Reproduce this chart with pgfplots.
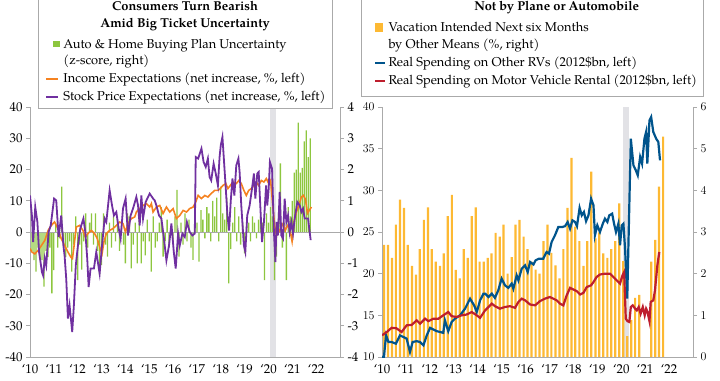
\documentclass[border=0pt]{standalone}
\usepackage{pgfplots}
\pgfplotsset{compat=1.18}
\usepackage{fontspec}
\setmainfont{TeX Gyre Pagella}
\definecolor{cgreen}{RGB}{141,198,63}
\definecolor{corange}{RGB}{245,130,32}
\definecolor{cpurple}{RGB}{112,48,160}
\definecolor{cgold}{RGB}{253,185,51}
\definecolor{cblue}{RGB}{0,84,140}
\definecolor{cred}{RGB}{190,30,45}
\definecolor{caxis}{RGB}{170,170,170}
\definecolor{crec}{RGB}{226,226,230}
\newcommand\lf{\fontsize{12.9}{15}\selectfont}
\pgfplotsset{
  base/.style={scale only axis, width=310bp, height=250bp, xmin=2010, xmax=2023,
    anchor=south west,
    axis line style={caxis, line width=0.8bp}, tick style={caxis, line width=0.8bp},
    tick align=outside, major tick length=4bp,
    ticklabel style={font=\lf, text=black}},
  xyears/.style={xtick={2010,2011,...,2022},
    xticklabels={‘10,‘11,‘12,‘13,‘14,‘15,‘16,‘17,‘18,‘19,‘20,‘21,‘22},
    x tick style={draw=none}},
}
\begin{document}
\begin{tikzpicture}[x=1bp,y=1bp]
\useasboundingbox (0,0) rectangle (720,380);
% ---------------- LEFT PANEL ----------------
\begin{axis}[base, at={(30bp,23bp)}, ymin=-4, ymax=4, axis x line=none, axis y line*=right,
  ytick={-4,-3,...,4}, yticklabels={-4,-3,-2,-1,0,1,2,3,4}]
\fill[crec] (axis cs:2020.08,-4) rectangle (axis cs:2020.33,4);
\addplot[ybar, bar width=1.3bp, fill=cgreen, draw=none] coordinates {
(2010.000,-1.38)(2010.083,-0.6)(2010.167,-0.9)(2010.250,-1.27)(2010.333,-0.5)(2010.417,-0.8)(2010.500,-0.9)(2010.583,-1.75)(2010.667,-0.6)(2010.750,-0.8)(2010.833,-0.5)(2010.917,-1.96)
(2011.000,-1.22)(2011.083,0.3)(2011.167,-0.5)(2011.250,-0.2)(2011.333,1.45)(2011.417,-0.4)(2011.500,-0.8)(2011.583,-0.5)(2011.667,-0.3)(2011.750,-1.27)(2011.833,-0.4)(2011.917,0.5)
(2012.000,-1.54)(2012.083,-0.4)(2012.167,-1.2)(2012.250,-0.3)(2012.333,0.6)(2012.417,-0.5)(2012.500,0.3)(2012.583,0.6)(2012.667,-0.4)(2012.750,0.6)(2012.833,-0.6)(2012.917,-1.38)
(2013.000,-1.06)(2013.083,0.6)(2013.167,-0.4)(2013.250,-0.79)(2013.333,0.3)(2013.417,-0.5)(2013.500,0.5)(2013.583,-0.3)(2013.667,0.4)(2013.750,-0.6)(2013.833,0.2)(2013.917,-0.4)
(2014.000,-1.0)(2014.083,0.6)(2014.167,0.5)(2014.250,-1.16)(2014.333,-0.4)(2014.417,0.3)(2014.500,-1.0)(2014.583,0.5)(2014.667,-1.0)(2014.750,-0.3)(2014.833,-0.75)(2014.917,0.4)
(2015.000,-0.3)(2015.083,-1.27)(2015.167,0.5)(2015.250,-0.5)(2015.333,-0.3)(2015.417,0.3)(2015.500,0.8)(2015.583,-0.79)(2015.667,-0.3)(2015.750,0.4)(2015.833,-0.5)(2015.917,0.2)
(2016.000,-0.3)(2016.083,0.5)(2016.167,1.35)(2016.250,-0.79)(2016.333,0.3)(2016.417,-0.4)(2016.500,0.6)(2016.583,-0.3)(2016.667,0.4)(2016.750,-0.5)(2016.833,-0.89)(2016.917,0.5)
(2017.000,0.3)(2017.083,-0.95)(2017.167,0.7)(2017.250,0.4)(2017.333,-0.2)(2017.417,0.8)(2017.500,0.6)(2017.583,-0.3)(2017.667,1.0)(2017.750,0.5)(2017.833,1.1)(2017.917,-0.3)
(2018.000,1.45)(2018.083,0.6)(2018.167,0.4)(2018.250,1.1)(2018.333,-1.64)(2018.417,-0.55)(2018.500,0.3)(2018.583,0.8)(2018.667,-0.3)(2018.750,0.5)(2018.833,-0.4)(2018.917,0.3)
(2019.000,-0.68)(2019.083,0.2)(2019.167,0.3)(2019.250,-0.3)(2019.333,0.5)(2019.417,0.3)(2019.500,-0.2)(2019.583,0.4)(2019.667,0.5)(2019.750,0.3)(2019.833,-1.54)(2019.917,0.6)
(2020.000,0.3)(2020.083,0.8)(2020.167,0.5)(2020.250,-1.54)(2020.333,-0.79)(2020.417,0.6)(2020.500,2.2)(2020.583,-0.5)(2020.667,0.3)(2020.750,-1.54)(2020.833,0.8)(2020.917,0.5)
(2021.000,1.0)(2021.083,1.9)(2021.167,2.0)(2021.250,3.5)(2021.333,1.9)(2021.417,2.05)(2021.500,2.9)(2021.583,3.25)(2021.667,2.4)(2021.750,3.0)
};
\draw[caxis, line width=0.8bp] (axis cs:2010,0) -- (axis cs:2023,0);
\end{axis}
\begin{axis}[base, at={(30bp,23bp)}, ymin=-40, ymax=40, axis x line*=bottom, axis y line*=left,
  ytick={-40,-30,...,40}, yticklabels={-40,-30,-20,-10,0,10,20,30,40}, xyears]
\addplot[corange, line width=1.6bp] coordinates {
(2010.00,-5.3)(2010.08,-6.4)(2010.20,-7.0)(2010.34,-5.9)(2010.48,-4.3)(2010.62,-2.7)(2010.76,0.5)(2010.89,2.1)(2011.03,3.2)(2011.17,1.1)(2011.31,-2.1)(2011.45,-4.3)(2011.59,-6.4)(2011.71,-8.0)(2011.78,-8.5)(2011.85,-4.3)(2011.94,1.6)(2012.08,2.1)(2012.22,0.5)(2012.32,-1.6)(2012.43,-0.5)(2012.57,0.5)(2012.71,-0.5)(2012.82,-2.1)(2012.92,-4.8)(2013.02,-7.0)(2013.10,-3.2)(2013.20,-0.5)(2013.34,0.5)(2013.48,1.1)(2013.62,2.1)(2013.76,3.2)(2013.90,2.7)(2014.00,0.0)(2014.11,2.7)(2014.25,4.3)(2014.39,4.8)
(2014.46,6.4)(2014.60,7.5)(2014.74,8.5)(2014.88,9.1)(2015.02,8.0)(2015.09,9.1)(2015.16,6.4)(2015.30,8.0)(2015.44,8.5)(2015.58,5.9)(2015.72,8.0)(2015.86,6.4)(2016.00,7.5)(2016.14,4.3)(2016.28,5.3)(2016.42,6.9)(2016.56,6.4)(2016.70,7.5)(2016.84,8.0)(2016.95,9.6)(2017.05,11.7)(2017.19,10.7)(2017.33,11.7)(2017.46,11.2)(2017.60,12.3)(2017.74,13.3)(2017.88,13.3)(2017.98,13.9)(2018.09,14.9)(2018.21,15.5)(2018.30,13.9)(2018.40,14.9)(2018.51,16.0)(2018.65,15.5)(2018.76,16.5)
(2018.86,15.5)(2018.97,13.3)(2019.07,11.7)(2019.17,13.3)(2019.28,13.9)(2019.39,14.9)(2019.49,16.0)(2019.59,14.9)(2019.70,16.5)(2019.81,16.0)(2019.91,17.1)(2020.01,15.5)(2020.09,16.5)(2020.18,8.5)(2020.26,2.1)(2020.34,-1.1)(2020.43,0.0)(2020.51,1.1)(2020.61,2.7)(2020.71,0.5)(2020.79,2.1)(2020.89,1.1)(2020.99,-3.0)(2021.07,3.2)(2021.17,6.4)(2021.27,8.5)(2021.38,11.2)(2021.46,11.7)(2021.55,10.5)(2021.64,6.0)(2021.72,7.0)(2021.80,8.0)
};
\addplot[cpurple, line width=1.8bp] coordinates {
(2010.00,11.7)(2010.08,5.3)(2010.13,-3.2)(2010.22,8.0)(2010.31,3.2)(2010.38,-6.4)(2010.50,-12.8)(2010.55,-13.9)(2010.62,-8.5)(2010.68,-10.7)(2010.78,0.0)(2010.87,2.1)(2011.01,10.7)(2011.10,10.1)(2011.20,-1.6)(2011.31,5.3)(2011.40,-4.3)(2011.45,-7.5)(2011.52,-15.0)(2011.59,-27.7)(2011.66,-23.5)(2011.70,-26.6)(2011.77,-32.0)(2011.84,-23.5)(2011.92,-10.7)(2012.01,-4.3)(2012.11,1.1)(2012.24,4.3)(2012.32,0.0)(2012.40,-8.5)(2012.46,-17.6)(2012.54,-11.7)(2012.68,-11.7)(2012.78,-6.4)(2012.92,-13.3)(2013.02,-4.3)(2013.13,4.3)(2013.20,3.2)(2013.34,13.3)(2013.44,8.5)(2013.52,5.3)(2013.62,6.4)(2013.72,1.1)(2013.80,-2.1)(2013.90,7.5)(2014.01,10.7)(2014.11,-1.1)(2014.22,5.3)(2014.32,7.5)
(2014.46,11.2)(2014.53,8.5)(2014.60,2.1)(2014.67,11.7)(2014.74,4.3)(2014.85,9.6)(2015.02,12.3)(2015.16,10.7)(2015.23,10.1)(2015.30,8.5)(2015.41,5.3)(2015.51,4.3)(2015.61,-1.6)(2015.72,-9.1)(2015.83,-4.3)(2015.93,2.7)(2016.03,-6.4)(2016.11,-11.7)(2016.21,-0.5)(2016.28,-4.3)(2016.39,-0.5)(2016.49,-1.6)(2016.58,3.2)(2016.70,0.0)(2016.81,-1.1)(2016.91,-0.5)(2016.95,24.0)(2017.05,23.5)(2017.19,26.7)(2017.28,22.4)(2017.37,20.8)(2017.46,23.5)(2017.53,17.6)(2017.60,16.5)(2017.70,21.9)(2017.79,18.7)(2017.88,14.9)(2017.95,24.0)(2018.00,27.7)(2018.07,30.4)(2018.12,24.5)(2018.21,13.9)(2018.28,5.3)(2018.35,0.5)(2018.42,10.1)(2018.49,17.1)(2018.57,11.7)(2018.65,21.3)(2018.74,23.5)
(2018.79,19.2)(2018.86,8.5)(2018.97,-4.3)(2019.03,-6.4)(2019.11,5.3)(2019.21,8.5)(2019.31,13.9)(2019.39,18.7)(2019.45,10.7)(2019.53,18.7)(2019.59,19.2)(2019.67,6.4)(2019.73,-3.2)(2019.81,3.2)(2019.90,14.9)(2019.95,8.5)(2020.01,13.9)(2020.06,22.4)(2020.15,20.3)(2020.23,0.0)(2020.29,-9.6)(2020.34,3.2)(2020.40,-1.1)(2020.47,12.8)(2020.54,-1.1)(2020.61,-2.1)(2020.68,10.7)(2020.75,3.2)(2020.82,5.3)(2020.89,0.0)(2020.96,3.2)(2021.03,-0.5)(2021.10,4.3)(2021.21,9.6)(2021.31,8.5)(2021.38,6.4)(2021.45,7.5)(2021.52,4.3)(2021.66,4.3)(2021.77,-2.6)
};
\end{axis}
% legend box left
\draw[caxis, line width=0.8bp, fill=white] (38.3,400) -- (38.3,271.7) -- (332.3,271.7) -- (332.3,400);
\node[anchor=base, font=\lf\bfseries] at (185,370) {Consumers Turn Bearish};
\node[anchor=base, font=\lf\bfseries] at (185,353) {Amid Big Ticket Uncertainty};
\fill[cgreen] (53.3,332.7) rectangle (60,339.3);
\node[anchor=base west, font=\lf, inner sep=0] at (63.3,332) {Auto \& Home Buying Plan Uncertainty};
\node[anchor=base west, font=\lf, inner sep=0] at (63.3,316) {(z-score, right)};
\draw[corange, line width=1.8bp] (46,300.7) -- (58,300.7);
\node[anchor=base west, font=\lf, inner sep=0] at (63.3,298) {Income Expectations (net increase, \%, left)};
\draw[cpurple, line width=1.8bp] (46,282.7) -- (58,282.7);
\node[anchor=base west, font=\lf, inner sep=0] at (63.3,280) {Stock Price Expectations (net increase, \%, left)};
% ---------------- RIGHT PANEL ----------------
\begin{axis}[base, at={(382bp,23bp)}, width=311bp, ymin=0, ymax=6, axis x line=none, axis y line*=right,
  ytick={0,1,...,6}]
\fill[crec] (axis cs:2020.08,0) rectangle (axis cs:2020.33,6);
\addplot[ybar, bar width=2.2bp, fill=cgold, draw=none] coordinates {
(2010.08,2.69)(2010.25,2.69)(2010.42,2.38)(2010.58,3.18)(2010.75,3.78)(2010.92,3.58)
(2011.08,2.69)(2011.25,2.19)(2011.42,1.98)(2011.58,2.59)(2011.75,3.29)(2011.92,3.59)
(2012.08,2.59)(2012.25,2.29)(2012.42,2.19)(2012.58,2.49)(2012.75,3.38)(2012.92,3.89)
(2013.08,2.09)(2013.25,1.89)(2013.42,2.59)(2013.58,2.38)(2013.75,3.38)(2013.92,3.59)
(2014.08,2.29)(2014.25,2.29)(2014.42,2.38)(2014.58,2.49)(2014.75,2.98)(2014.92,2.89)
(2015.08,3.18)(2015.25,2.0)(2015.42,2.4)(2015.58,3.18)(2015.75,3.29)(2015.92,2.89)
(2016.08,2.59)(2016.25,2.29)(2016.42,2.1)(2016.58,2.0)(2016.75,2.78)(2016.92,3.18)
(2017.08,2.5)(2017.25,2.2)(2017.42,1.89)(2017.58,2.59)(2017.75,3.58)(2017.92,4.78)
(2018.08,3.13)(2018.25,2.78)(2018.42,2.19)(2018.58,2.78)(2018.75,4.45)(2018.92,2.85)
(2019.08,2.99)(2019.25,2.49)(2019.42,2.38)(2019.58,2.59)(2019.75,2.78)(2019.92,3.69)
(2020.08,2.3)(2020.25,0.5)(2020.42,0.89)(2020.58,1.42)(2020.75,1.49)
(2021.25,2.29)(2021.42,2.81)(2021.58,4.09)(2021.75,5.29)
};
\end{axis}
\begin{axis}[base, at={(382bp,23bp)}, width=311bp, ymin=10, ymax=40, axis x line*=bottom, axis y line*=left,
  ytick={10,15,...,40}, xyears]
\addplot[cblue, line width=2.2bp] coordinates {
(2010.00,10.0)(2010.08,10.0)(2010.17,12.6)(2010.27,11.8)(2010.40,11.8)(2010.58,11.6)(2010.75,12.6)(2010.89,12.4)(2011.03,12.2)(2011.17,10.6)(2011.28,11.8)(2011.45,11.9)(2011.59,11.8)(2011.73,11.4)(2011.87,12.6)(2012.01,13.5)(2012.15,13.3)(2012.29,13.1)(2012.43,13.0)(2012.56,12.9)(2012.63,14.4)(2012.77,13.1)(2012.91,14.2)(2013.05,14.6)(2013.26,15.0)(2013.47,15.8)(2013.68,17.0)(2013.85,16.2)(2013.96,15.4)(2014.10,16.8)(2014.24,17.6)
(2014.31,17.6)(2014.45,17.2)(2014.59,17.6)(2014.72,17.1)(2014.86,18.0)(2015.00,19.4)(2015.14,18.6)(2015.28,18.3)(2015.42,18.8)(2015.49,18.2)(2015.63,19.8)(2015.70,19.2)(2015.84,20.6)(2015.98,21.0)(2016.09,20.2)(2016.19,21.4)(2016.33,21.1)(2016.42,21.6)(2016.56,21.8)(2016.74,21.8)(2016.88,22.6)(2016.98,22.4)(2017.09,23.8)(2017.23,24.6)(2017.37,25.6)(2017.54,25.6)(2017.65,25.7)(2017.76,26.2)(2017.86,25.4)(2017.96,26.4)(2018.07,26.2)(2018.15,25.7)(2018.26,27.9)(2018.35,27.0)(2018.44,27.4)(2018.53,26.3)(2018.63,27.0)(2018.74,29.0)
(2018.84,28.2)(2018.90,24.6)(2019.00,25.8)(2019.11,25.0)(2019.23,26.0)(2019.32,26.6)(2019.42,26.2)(2019.50,27.0)(2019.62,27.2)(2019.70,26.0)(2019.78,25.0)(2019.88,26.0)(2019.95,23.4)(2020.02,25.8)(2020.09,26.0)(2020.16,23.0)(2020.25,17.0)(2020.40,36.2)(2020.51,33.0)(2020.61,32.4)(2020.69,31.8)(2020.79,34.0)(2020.87,33.2)(2020.97,36.2)(2021.04,37.0)(2021.09,33.2)(2021.18,38.4)(2021.25,38.8)(2021.34,37.0)(2021.46,36.2)(2021.55,35.8)(2021.62,33.6)
};
\addplot[cred, line width=2.2bp] coordinates {
(2010.00,12.6)(2010.20,13.0)(2010.40,13.5)(2010.60,13.45)(2010.82,13.0)(2011.03,13.8)(2011.24,13.85)(2011.45,14.4)(2011.59,14.0)(2011.80,14.6)(2011.94,14.3)(2012.15,14.6)(2012.36,14.6)(2012.56,15.0)(2012.77,15.4)(2012.91,14.9)(2013.12,14.8)(2013.33,15.0)(2013.54,15.1)(2013.75,15.4)(2013.96,15.0)(2014.10,14.7)(2014.31,15.6)
(2014.45,16.0)(2014.59,16.4)(2014.72,16.1)(2014.93,15.8)(2015.14,16.0)(2015.35,16.1)(2015.56,15.9)(2015.70,16.6)(2015.84,17.0)(2015.98,16.8)(2016.19,16.3)(2016.40,16.2)(2016.60,16.7)(2016.81,17.0)(2017.02,17.2)(2017.16,17.0)(2017.30,16.8)(2017.44,16.4)(2017.58,16.2)(2017.72,17.4)(2017.86,18.3)(2018.00,18.1)(2018.14,17.9)(2018.28,17.5)(2018.42,17.7)(2018.56,18.4)(2018.74,18.6)
(2018.84,19.0)(2018.97,19.6)(2019.11,19.9)(2019.32,20.0)(2019.53,20.0)(2019.67,19.6)(2019.81,19.2)(2019.95,18.8)(2020.05,19.8)(2020.12,20.2)(2020.19,14.6)(2020.26,14.3)(2020.34,14.2)(2020.40,16.0)(2020.48,16.2)(2020.58,15.8)(2020.65,15.6)(2020.73,16.0)(2020.81,15.2)(2020.90,16.0)(2020.98,15.0)(2021.04,15.8)(2021.09,15.5)(2021.18,14.3)(2021.23,16.6)(2021.34,16.8)(2021.41,18.0)(2021.51,21.0)(2021.59,22.6)
};
\end{axis}
% legend box right
\draw[caxis, line width=0.8bp, fill=white] (361.7,400) -- (361.7,284) -- (703.3,284) -- (703.3,400);
\node[anchor=base, font=\lf\bfseries] at (556.7,370) {Not by Plane or Automobile};
\fill[cgold] (375,348.3) rectangle (383.3,357.3);
\node[anchor=base west, font=\lf, inner sep=0] at (388.3,348.3) {Vacation Intended Next six Months};
\node[anchor=base west, font=\lf, inner sep=0] at (388.3,331.7) {by Other Means (\%, right)};
\draw[cblue, line width=1.8bp] (375,317.3) -- (385,317.3);
\node[anchor=base west, font=\lf, inner sep=0] at (388.3,313.3) {Real Spending on Other RVs (2012\$bn, left)};
\draw[cred, line width=1.8bp] (375,299.3) -- (385,299.3);
\node[anchor=base west, font=\lf, inner sep=0] at (388.3,296) {Real Spending on Motor Vehicle Rental (2012\$bn, left)};
\end{tikzpicture}
\end{document}
